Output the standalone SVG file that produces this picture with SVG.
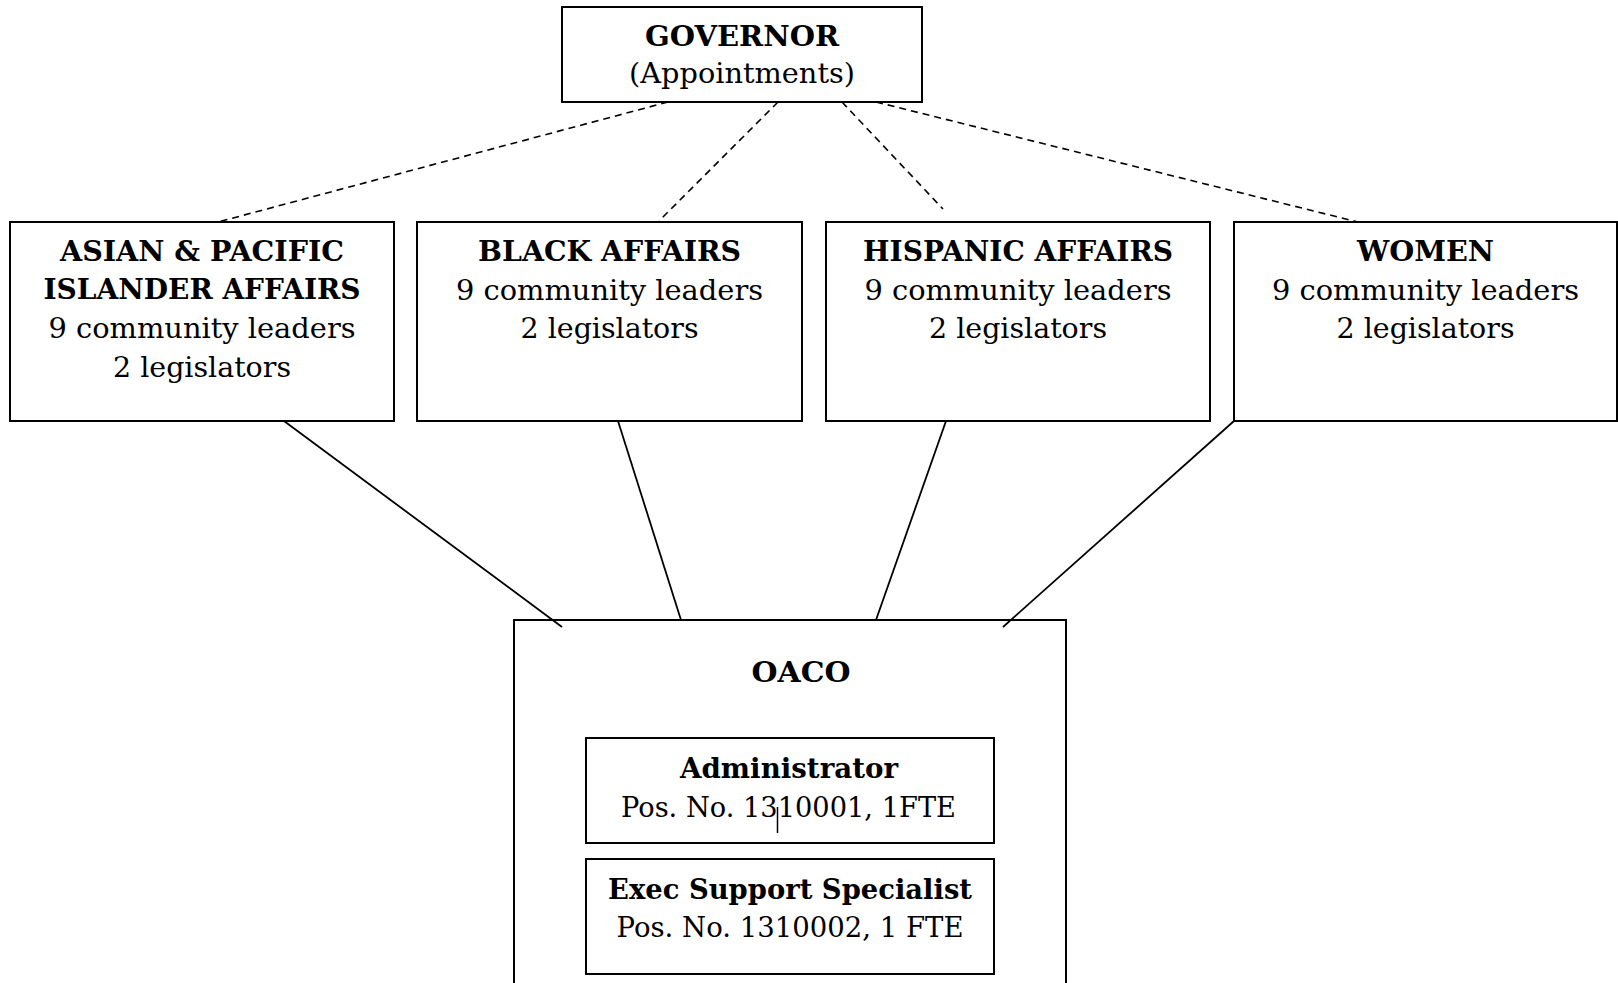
<svg xmlns="http://www.w3.org/2000/svg" width="1618" height="983" viewBox="0 0 1618 983">
<style>
.box{fill:#fff;stroke:#000;stroke-width:2}
.t{font-family:"DejaVu Serif","Liberation Serif",serif;font-size:28px;fill:#000;text-anchor:middle}
.b{font-weight:bold}
.dash{stroke:#000;stroke-width:1.6;stroke-dasharray:7 5;fill:none}
.solid{stroke:#000;stroke-width:1.8;fill:none}
</style>
<rect x="0" y="0" width="1618" height="983" fill="#fff"/>
<g id="governor">
<rect class="box" x="562" y="7" width="360" height="95"/>
<text class="t b" x="742" y="46" textLength="194" lengthAdjust="spacingAndGlyphs">GOVERNOR</text>
<text class="t" x="742" y="82.5" textLength="226" lengthAdjust="spacingAndGlyphs">(Appointments)</text>
</g>
<g id="asian">
<rect class="box" x="10" y="222" width="384" height="199"/>
<text class="t b" x="202" y="261" textLength="284" lengthAdjust="spacingAndGlyphs">ASIAN &amp; PACIFIC</text>
<text class="t b" x="202" y="299" textLength="317" lengthAdjust="spacingAndGlyphs">ISLANDER AFFAIRS</text>
<text class="t" x="202" y="338" textLength="307" lengthAdjust="spacingAndGlyphs">9 community leaders</text>
<text class="t" x="202" y="377" textLength="178" lengthAdjust="spacingAndGlyphs">2 legislators</text>
</g>
<g id="black">
<rect class="box" x="417" y="222" width="385" height="199"/>
<text class="t b" x="609.5" y="261" textLength="263" lengthAdjust="spacingAndGlyphs">BLACK AFFAIRS</text>
<text class="t" x="609.5" y="300" textLength="307" lengthAdjust="spacingAndGlyphs">9 community leaders</text>
<text class="t" x="609.5" y="338" textLength="178" lengthAdjust="spacingAndGlyphs">2 legislators</text>
</g>
<g id="hispanic">
<rect class="box" x="826" y="222" width="384" height="199"/>
<text class="t b" x="1018" y="261" textLength="310" lengthAdjust="spacingAndGlyphs">HISPANIC AFFAIRS</text>
<text class="t" x="1018" y="300" textLength="307" lengthAdjust="spacingAndGlyphs">9 community leaders</text>
<text class="t" x="1018" y="338" textLength="178" lengthAdjust="spacingAndGlyphs">2 legislators</text>
</g>
<g id="women">
<rect class="box" x="1234" y="222" width="383" height="199"/>
<text class="t b" x="1425.5" y="261" textLength="137" lengthAdjust="spacingAndGlyphs">WOMEN</text>
<text class="t" x="1425.5" y="300" textLength="307" lengthAdjust="spacingAndGlyphs">9 community leaders</text>
<text class="t" x="1425.5" y="338" textLength="178" lengthAdjust="spacingAndGlyphs">2 legislators</text>
</g>
<g id="oaco">
<rect class="box" x="514" y="620" width="552" height="420"/>
<text class="t b" x="801" y="681.5" textLength="99" lengthAdjust="spacingAndGlyphs">OACO</text>
</g>
<g id="administrator">
<rect class="box" x="586" y="738" width="408" height="105"/>
<text class="t b" x="789" y="778" textLength="218" lengthAdjust="spacingAndGlyphs">Administrator</text>
<text class="t" x="788.5" y="816.5" textLength="335" lengthAdjust="spacingAndGlyphs">Pos. No. 1310001, 1FTE</text>
<line x1="777.5" y1="807" x2="777.5" y2="833" stroke="#000" stroke-width="1.5"/>
</g>
<g id="exec">
<rect class="box" x="586" y="859" width="408" height="115"/>
<text class="t b" x="790" y="899" textLength="364" lengthAdjust="spacingAndGlyphs">Exec Support Specialist</text>
<text class="t" x="790" y="936.5" textLength="347" lengthAdjust="spacingAndGlyphs">Pos. No. 1310002, 1 FTE</text>
</g>
<g id="connectors">
<line class="dash" x1="668" y1="102" x2="218" y2="222"/>
<line class="dash" x1="778" y1="102" x2="659" y2="221"/>
<line class="dash" x1="842" y1="102" x2="943" y2="209"/>
<line class="dash" x1="876" y1="102" x2="1358" y2="222"/>
<line class="solid" x1="284" y1="421" x2="562" y2="627"/>
<line class="solid" x1="618" y1="421" x2="681" y2="620"/>
<line class="solid" x1="946" y1="421" x2="876" y2="620"/>
<line class="solid" x1="1234" y1="421" x2="1003" y2="627"/>
</g>
</svg>
